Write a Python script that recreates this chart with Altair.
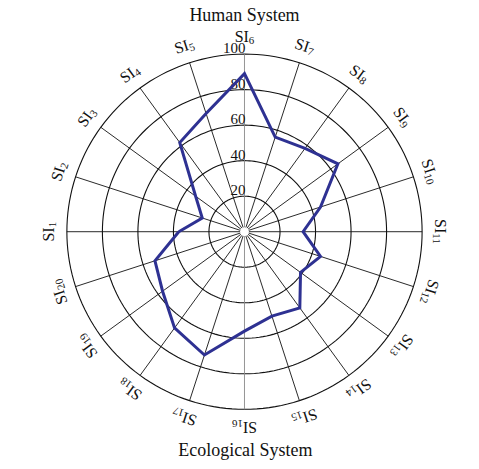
import altair as alt
import pandas as pd
import numpy as np

# ---- data ----
labels = ["SI1", "SI2", "SI3", "SI4", "SI5", "SI6", "SI7", "SI8", "SI9", "SI10",
          "SI11", "SI12", "SI13", "SI14", "SI15", "SI16", "SI17", "SI18", "SI19", "SI20"]
indices = [1, 2, 3, 4, 5, 6, 7, 8, 9, 10, 11, 12, 13, 14, 15, 16, 17, 18, 19, 20]
values = [37, 25, 34, 62, 70, 89, 56, 58, 65, 45, 33, 45, 39, 53, 50, 56, 73, 67, 57, 53]
ring_levels = [20, 40, 60, 80, 100]
ring_labels = ["20", "40", "60", "80", "100"]
top_title = "Human System"
bottom_title = "Ecological System"

# ---- geometry / style ----
W, H = 464, 454
PX = 1.78                # pixels per data unit
CX, CY = 237.0, 223.7    # centre in plot pixels
xs = alt.Scale(domain=[-CX / PX, (W - CX) / PX], nice=False, zero=False)
ys = alt.Scale(domain=[-(H - CY) / PX, CY / PX], nice=False, zero=False)
FONT = "Liberation Serif"
LINE_COLOR = "#2e3192"


def ang_of(k):
    return ((k - 6) * 18) % 360


# polygon
poly_rows = []
for i, (k, v) in enumerate(zip(indices, values)):
    t = np.radians(ang_of(k))
    poly_rows.append({"x": v * np.sin(t), "y": v * np.cos(t), "o": i})
poly_rows.append({**poly_rows[0], "o": len(poly_rows)})
poly = pd.DataFrame(poly_rows)

# rings
ring_rows = []
for lev in ring_levels:
    for j, a in enumerate(np.arange(0, 361, 2)):
        t = np.radians(a)
        ring_rows.append({"lev": lev, "x": lev * np.sin(t), "y": lev * np.cos(t), "o": j})
rings = pd.DataFrame(ring_rows)

# spokes
sp_rows = []
r0, r1 = 2.5, ring_levels[-1]
for k in indices:
    a = ang_of(k)
    t = np.radians(a)
    sp_rows.append({"x0": r0 * np.sin(t), "y0": r0 * np.cos(t),
                    "x1": r1 * np.sin(t), "y1": r1 * np.cos(t),
                    "c": "#8a8a8a" if a in (0, 180) else "#111111"})
spokes = pd.DataFrame(sp_rows)

# axis labels (SI + subscript number)
R_LAB = 107.0
lab_rows = []
for lab, k in zip(labels, indices):
    a = ang_of(k)
    t = np.radians(a)
    num = lab[2:]
    n = len(num)
    off = (7.1 - 2.75 * n) / PX
    bx = R_LAB * np.sin(t) + off * np.cos(t)
    by = R_LAB * np.cos(t) - off * np.sin(t)
    lab_rows.append({"x": bx, "y": by, "ang": a, "main": lab[:2], "sub": num})
labs = pd.DataFrame(lab_rows)

rl = pd.DataFrame({"y": ring_levels, "x": [0] * len(ring_levels), "t": ring_labels})

titles = pd.DataFrame({"t": [top_title, bottom_title],
                       "x": [0.0, 0.5],
                       "y": [(CY - 13.0) / PX, -(456 - 8 - CY) / PX]})

X = lambda f: alt.X(f, scale=xs, axis=None)
Y = lambda f: alt.Y(f, scale=ys, axis=None)

ring_layer = alt.Chart(rings).mark_line(color="#111111", strokeWidth=1.1).encode(
    x=X("x:Q"), y=Y("y:Q"), detail="lev:N", order="o:Q")

spoke_layer = alt.Chart(spokes).mark_rule(strokeWidth=0.9).encode(
    x=X("x0:Q"), y=Y("y0:Q"), x2="x1:Q", y2="y1:Q",
    color=alt.Color("c:N", scale=None))

ring_text = alt.Chart(rl).mark_text(font=FONT, fontSize=15, align="right",
                                    baseline="alphabetic", dx=1, dy=-1,
                                    color="#111111").encode(
    x=X("x:Q"), y=Y("y:Q"), text="t:N")

poly_layer = alt.Chart(poly).mark_line(color=LINE_COLOR, strokeWidth=3,
                                       strokeJoin="miter").encode(
    x=X("x:Q"), y=Y("y:Q"), order="o:Q")

main_text = alt.Chart(labs).mark_text(font=FONT, fontSize=16, align="right",
                                      baseline="alphabetic", color="#111111").encode(
    x=X("x:Q"), y=Y("y:Q"), text="main:N", angle=alt.Angle("ang:Q", scale=None))

sub_text = alt.Chart(labs).mark_text(font=FONT, fontSize=11, align="left",
                                     baseline="alphabetic", dy=2, color="#111111").encode(
    x=X("x:Q"), y=Y("y:Q"), text="sub:N", angle=alt.Angle("ang:Q", scale=None))

title_text = alt.Chart(titles).mark_text(font=FONT, fontSize=18, align="center",
                                         baseline="alphabetic", color="#111111").encode(
    x=X("x:Q"), y=Y("y:Q"), text="t:N")

chart = alt.layer(ring_layer, spoke_layer, ring_text, poly_layer,
                  main_text, sub_text, title_text).properties(
    width=W, height=H, padding=0, autosize="none"
).configure_view(stroke=None)

chart.save("out.html", embed_options={"renderer": "svg", "actions": False})
